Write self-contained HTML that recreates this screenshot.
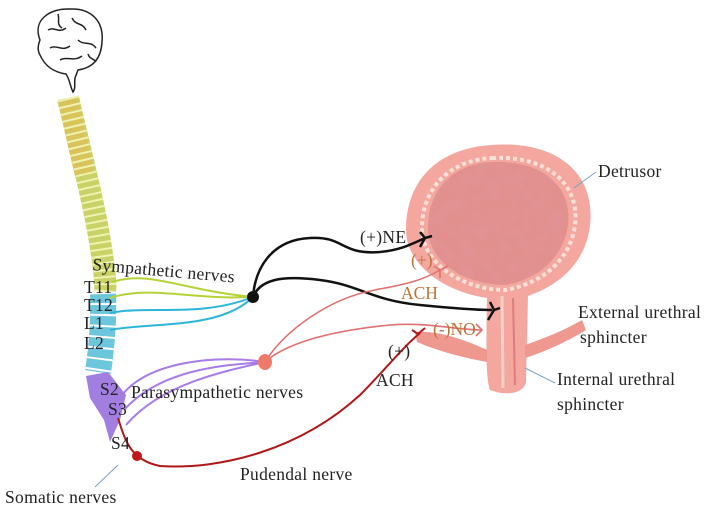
<!DOCTYPE html>
<html><head><meta charset="utf-8"><style>
body{margin:0;background:#fff}
svg{display:block}
text{font-family:"Liberation Serif",serif}
</style></head><body>
<svg width="720" height="510" viewBox="0 0 720 510" xmlns="http://www.w3.org/2000/svg">
<defs>
<filter id="tex"><feTurbulence type="fractalNoise" baseFrequency="0.08" numOctaves="2" seed="3"/><feColorMatrix values="0 0 0 0 0.75  0 0 0 0 0.3  0 0 0 0 0.33  0 0 0 1.2 -0.45"/><feComposite in2="SourceGraphic" operator="in"/></filter>
</defs>
<rect width="720" height="510" fill="#fff"/>
<!-- brain -->
<g fill="none" stroke="#222" stroke-width="1.5">
<path d="M40,40 C32,20 50,8 70,9 C92,8 104,22 102,42 C101,60 92,68 78,70 L75,78 C74,84 76,88 73,92 C70,86 70,80 66,74 C52,72 44,64 40,55 C37,50 38,45 40,40 Z"/>
<path d="M48,30 C55,26 58,34 66,28 M72,18 C76,26 82,22 86,30 M50,48 C56,44 62,52 70,46 M78,40 C84,46 90,40 96,48 M60,60 C66,56 74,62 82,56 M58,14 C60,20 56,24 62,28 M88,54 C90,60 94,58 96,62"/>
</g>
<!-- spine -->
<path d="M68,98 C80,150 96,210 102,255 C105,275 106,285 105,292" stroke="#c9d266" stroke-width="22" fill="none"/>
<path d="M68,98 C73,125 79,150 85,175" stroke="#d8c45a" stroke-width="20" fill="none"/>
<path d="M68,98 C80,150 96,210 102,255 C105,275 106,285 105,292" stroke="#eef3b0" stroke-width="22" stroke-dasharray="2,5" fill="none"/>
<path d="M103,292 C104,320 102,345 98,372" stroke="#6cc6dc" stroke-width="26" fill="none"/>
<path d="M103,292 C104,320 102,345 98,372" stroke="#fff" stroke-width="26" stroke-dasharray="2,9" fill="none"/>
<path d="M86,376 L108,372 L126,395 L120,420 L110,442 L104,420 L90,398 Z" fill="#a27ee0"/>
<!-- green / blue nerves -->
<g fill="none" stroke-width="2">
<path d="M112,282 C150,270 180,290 253,297" stroke="#b5d338"/>
<path d="M110,298 C150,285 190,300 253,297" stroke="#b5d338"/>
<path d="M110,313 C150,305 200,318 253,297" stroke="#2eb4d8"/>
<path d="M110,330 C150,322 220,330 253,297" stroke="#2eb4d8"/>
</g>
<!-- purple -->
<g fill="none" stroke="#a77be8" stroke-width="2">
<path d="M122,395 C150,360 220,355 265,362"/>
<path d="M124,410 C160,370 220,365 265,362"/>
<path d="M126,425 C160,385 220,372 265,362"/>
</g>
<!-- bladder -->
<g>
<path d="M492,145 C555,140 596,172 590,225 C586,262 560,285 528,296 L526,382 C524,394 505,396 490,390 C486,380 486,350 487,298 C445,292 405,265 406,228 C407,178 440,148 492,145 Z" fill="#f3a79f"/>
<path d="M415,332 C440,330 470,342 487,350 L487,362 C465,358 440,352 417,342 Z" fill="#ef9890"/>
<path d="M525,345 C545,338 565,330 582,320 L586,330 C570,340 545,352 525,358 Z" fill="#ef9890"/>
<path d="M492,158 C548,155 580,185 575,225 C570,262 540,284 505,290 C465,290 422,265 422,228 C422,188 450,160 492,158 Z" fill="none" stroke="#fbe0d8" stroke-width="4" stroke-dasharray="4,3"/>
<path d="M492,162 C545,160 572,188 568,225 C563,260 535,280 505,285 C465,285 428,262 428,228 C428,190 452,164 492,162 Z" fill="#e2908e"/>
<path d="M492,162 C545,160 572,188 568,225 C563,260 535,280 505,285 C465,285 428,262 428,228 C428,190 452,164 492,162 Z" fill="#fff" filter="url(#tex)"/>
<path d="M502,296 L503,388" stroke="#fbd0c8" stroke-width="3"/>
<path d="M513,298 L515,385" stroke="#e07c7c" stroke-width="2"/>
</g>
<!-- black nerves -->
<g fill="none" stroke="#111" stroke-width="2.5">
<path d="M253,297 C255,270 270,240 310,238 C345,236 340,255 380,252 C400,250 410,245 425,238"/>
<path d="M253,297 C260,280 280,275 320,280 C360,285 370,300 420,305 C450,308 475,310 492,310"/>
<path d="M420,232 L425,238 L420,247 M425,238 L432,236"/>
<path d="M490,302 L494,310 L488,320 M494,310 L500,308"/>
</g>
<!-- pink nerves -->
<g fill="none" stroke="#e07070" stroke-width="1.6">
<path d="M265,362 C285,330 330,298 375,290 C400,285 420,282 440,270"/>
<path d="M265,362 C290,340 340,330 390,325 C430,322 455,330 482,330"/>
<path d="M434,266 L440,270 L448,266 M440,270 L440,278"/>
<path d="M476,324 L482,330 L476,336"/>
</g>
<circle cx="253" cy="297" r="6" fill="#111"/>
<ellipse cx="265" cy="362" rx="7" ry="8" fill="#f07a6a"/>
<!-- pudendal -->
<path d="M118,418 C125,440 130,460 160,466 C220,470 300,450 360,395 C385,370 400,350 420,333" fill="none" stroke="#b01818" stroke-width="2"/>
<path d="M412,330 L418,334 L425,328" fill="none" stroke="#b01818" stroke-width="2"/>
<circle cx="137" cy="456" r="5" fill="#c0181a"/>
<!-- pointer lines -->
<g stroke="#7aa0c8" stroke-width="1">
<line x1="596" y1="172" x2="574" y2="188"/>
<line x1="555" y1="383" x2="525" y2="368"/>
<line x1="118" y1="465" x2="95" y2="487"/>
</g>
<!-- labels -->
<g font-size="17.5" fill="#222" letter-spacing="0.3">
<text x="598" y="177">Detrusor</text>
<text x="578" y="318">External urethral</text>
<text x="580" y="343">sphincter</text>
<text x="557" y="385">Internal urethral</text>
<text x="557" y="410">sphincter</text>
<text x="360" y="243">(+)NE</text>
<text x="388" y="357">(+)</text>
<text x="376" y="386">ACH</text>
<text x="92" y="270" transform="rotate(5 92 270)">Sympathetic nerves</text>
<text x="84" y="293">T11</text>
<text x="84" y="311">T12</text>
<text x="84" y="329">L1</text>
<text x="84" y="349">L2</text>
<text x="100" y="395">S2</text>
<text x="108" y="415">S3</text>
<text x="111" y="449">S4</text>
<text x="131" y="398">Parasympathetic nerves</text>
<text x="240" y="480">Pudendal nerve</text>
<text x="5" y="503">Somatic nerves</text>
</g>
<g font-size="17.5" fill="#b8743a">
<text x="411" y="266">(+)</text>
<text x="401" y="299">ACH</text>
<text x="433" y="335">(-)NO</text>
</g>
</svg>
</body></html>
